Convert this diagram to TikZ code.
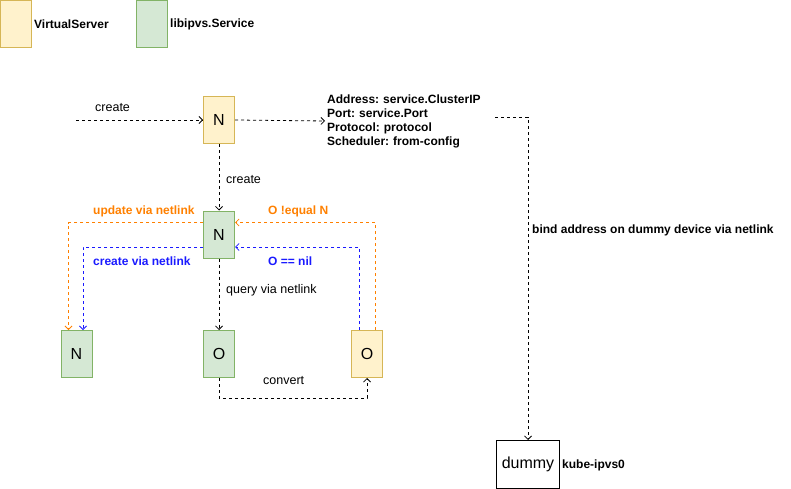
\documentclass[tikz,border=0pt]{standalone}
\usepackage{fontspec}
\setmainfont{Liberation Sans}
\usetikzlibrary{arrows.meta}
\frenchspacing
\definecolor{yfill}{HTML}{FFF2CC}
\definecolor{ydraw}{HTML}{D6B656}
\definecolor{gfill}{HTML}{D5E8D4}
\definecolor{gdraw}{HTML}{82B366}
\definecolor{orng}{HTML}{FF8000}
\definecolor{blu}{HTML}{1A1AFF}
\tikzset{
  ybox/.style={draw=ydraw, fill=yfill, line width=1pt, minimum width=31pt, minimum height=47pt, inner sep=0pt, font=\fontsize{16}{18}\selectfont},
  gbox/.style={draw=gdraw, fill=gfill, line width=1pt, minimum width=31pt, minimum height=47pt, inner sep=0pt, font=\fontsize{16}{18}\selectfont},
  conn/.style={dash pattern=on 3pt off 3pt, line width=0.8pt, -{Straight Barb[length=3.5pt,width=7pt]}},
  lbl/.style={anchor=west, inner sep=0pt, font=\fontsize{12.5}{14}\selectfont},
  blbl/.style={lbl, font=\fontsize{12}{14}\selectfont\bfseries},
}
\begin{document}
\begin{tikzpicture}[x=1pt, y=-1pt]
\useasboundingbox (0,0) rectangle (791,489);
% legend
\node[ybox] (legY) at (16,24) {};
\node[blbl] (legYt) at (34,24) {VirtualServer};
\node[gbox] (legG) at (151.5,24) {};
\node[blbl] (legGt) at (170,24) {libipvs.Service};
% main nodes
\node[ybox] (nTop) at (219,120) {N};
\node[gbox] (nMid) at (219,234.5) {N};
\node[gbox] (oG) at (219,354) {O};
\node[gbox] (nL) at (76.5,354) {N};
\node[ybox] (oY) at (367,354) {O};
\node[draw, line width=1pt, minimum width=63pt, minimum height=48pt, inner sep=0pt, font=\fontsize{16}{18}\selectfont] (dummy) at (528,464.5) {dummy};
\node[blbl, anchor=west, align=left, inner sep=0pt, text width=168pt] (addr) at (327,121) {Address: service.ClusterIP\\Port: service.Port\\Protocol: protocol\\Scheduler: from-config};
\coordinate (cin) at (76,120);
% connectors
\draw[conn] (cin) -- (nTop.west);
\node[lbl] at (95,108) {create};
\draw[conn] (nTop.east) -- ([xshift=-2pt]addr.west);
\draw[conn] ([yshift=4pt]addr.east) -| (dummy.north);
\node[blbl] at (532,230) {bind address on dummy device via netlink};
\node[blbl] at (562,465) {kube-ipvs0};
\draw[conn] (nTop.south) -- (nMid.north);
\node[lbl] at (226,180) {create};
\draw[conn] (nMid.south) -- (oG.north);
\node[lbl] at (226,290) {query via netlink};
\draw[conn] (oG.south) -- ++(0,20) -| (oY.south);
\node[lbl] at (263,381) {convert};
% orange / blue
\draw[conn, orng] ([yshift=12pt]nMid.west) -| ([xshift=-8pt]nL.north);
\draw[conn, blu] ([yshift=-12.5pt]nMid.west) -| ([xshift=6.5pt]nL.north);
\draw[conn, orng] ([xshift=8pt]oY.north) |- ([yshift=12pt]nMid.east);
\draw[conn, blu] ([xshift=-8pt]oY.north) |- ([yshift=-12.5pt]nMid.east);
\node[blbl, text=orng] at (93,211) {update via netlink};
\node[blbl, text=orng] at (268,211) {O !equal N};
\node[blbl, text=blu] at (93,261) {create via netlink};
\node[blbl, text=blu] at (268,261) {O == nil};
\end{tikzpicture}
\end{document}
